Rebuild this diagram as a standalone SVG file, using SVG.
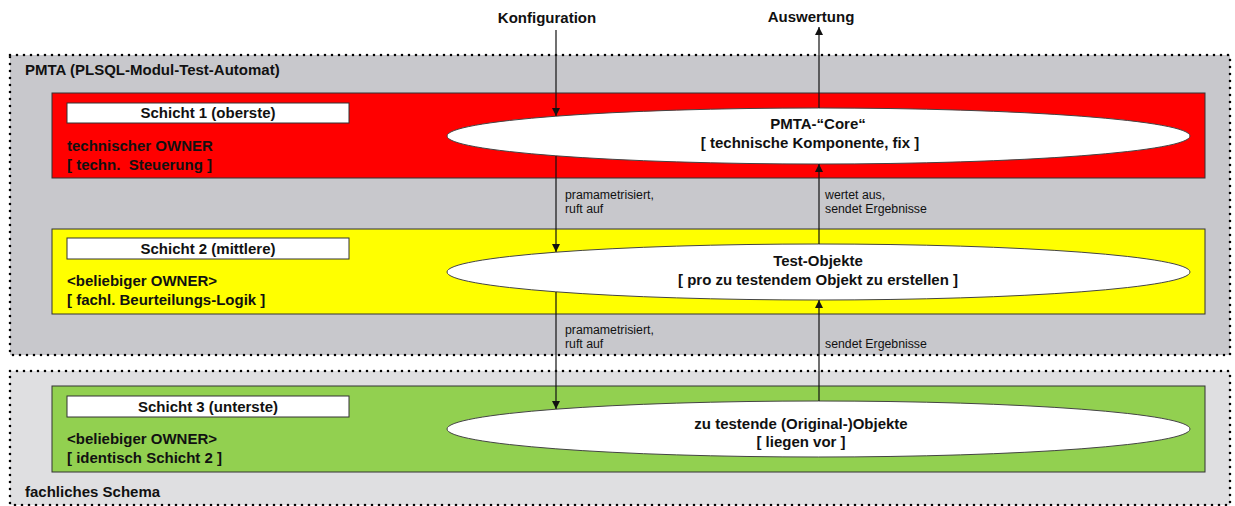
<svg xmlns="http://www.w3.org/2000/svg" width="1235" height="506" viewBox="0 0 1235 506">
<style>
text{font-family:"Liberation Sans",Arial,sans-serif;fill:#111}
.b{font-weight:bold;font-size:15px}
.s{font-size:12.3px}
.c{text-anchor:middle}
.zone{stroke:#000;stroke-width:2.6;stroke-linecap:round;stroke-dasharray:0 7}
.layer{stroke:#333;stroke-width:1}
.tag{fill:#fff;stroke:#333;stroke-width:1}
.ell{fill:#fff;stroke:#444;stroke-width:1}
.con{stroke:#111;stroke-width:1.2;fill:none}
</style>
<defs>
<marker id="ah" viewBox="0 0 10 10" refX="10" refY="5" markerWidth="9" markerHeight="8" markerUnits="userSpaceOnUse" orient="auto">
<path d="M0,0 L10,5 L0,10 z" fill="#111"/>
</marker>
</defs>

<g id="zone-pmta">
<rect x="10" y="55" width="1220" height="300" fill="#c8c8cc"/>
<rect class="zone" x="10" y="55" width="1220" height="300" fill="none"/>
<text class="b" x="25" y="75">PMTA (PLSQL-Modul-Test-Automat)</text>
</g>

<g id="zone-fach">
<rect x="10" y="371" width="1220" height="134" fill="#dfdfe1"/>
<rect class="zone" x="10" y="371" width="1220" height="134" fill="none"/>
<text class="b" x="25" y="497">fachliches Schema</text>
</g>

<g id="layer1">
<rect class="layer" x="52" y="93" width="1153" height="85" fill="#ff0000"/>
<rect class="tag" x="67" y="103" width="282" height="20"/>
<text class="b c" x="208" y="118">Schicht 1 (oberste)</text>
<text class="b" x="67" y="151">technischer OWNER</text>
<text class="b" x="67" y="170" style="white-space:pre">[ techn.  Steuerung ]</text>
</g>

<g id="layer2">
<rect class="layer" x="52" y="229" width="1153" height="85" fill="#ffff00"/>
<rect class="tag" x="67" y="238" width="282" height="21"/>
<text class="b c" x="208" y="254">Schicht 2 (mittlere)</text>
<text class="b" x="67" y="286">&lt;beliebiger OWNER&gt;</text>
<text class="b" x="67" y="305">[ fachl. Beurteilungs-Logik ]</text>
</g>

<g id="layer3">
<rect class="layer" x="52" y="386" width="1153" height="86" fill="#92d050"/>
<rect class="tag" x="67" y="396" width="282" height="21"/>
<text class="b c" x="208" y="412">Schicht 3 (unterste)</text>
<text class="b" x="67" y="444">&lt;beliebiger OWNER&gt;</text>
<text class="b" x="67" y="463">[ identisch Schicht 2 ]</text>
</g>

<g id="core">
<ellipse class="ell" cx="818.5" cy="136" rx="371.5" ry="28"/>
<text class="b c" x="818" y="129">PMTA-“Core“</text>
<text class="b c" x="810" y="148">[ technische Komponente, fix ]</text>
</g>

<g id="testobjekte">
<ellipse class="ell" cx="818.5" cy="272" rx="371.5" ry="28"/>
<text class="b c" x="818" y="266">Test-Objekte</text>
<text class="b c" x="818" y="285">[ pro zu testendem Objekt zu erstellen ]</text>
</g>

<g id="original">
<ellipse class="ell" cx="818.5" cy="429" rx="371.5" ry="28"/>
<text class="b c" x="801" y="429">zu testende (Original-)Objekte</text>
<text class="b c" x="801" y="447">[ liegen vor ]</text>
</g>

<g id="connectors">
<text class="b c" x="547" y="23">Konfiguration</text>
<text class="b c" x="811" y="22">Auswertung</text>
<line class="con" x1="556" y1="30" x2="556" y2="116" marker-end="url(#ah)"/>
<line class="con" x1="819" y1="108" x2="819" y2="27" marker-end="url(#ah)"/>
<line class="con" x1="556" y1="156" x2="556" y2="252" marker-end="url(#ah)"/>
<line class="con" x1="819" y1="244" x2="819" y2="164" marker-end="url(#ah)"/>
<line class="con" x1="556" y1="292" x2="556" y2="409" marker-end="url(#ah)"/>
<line class="con" x1="819" y1="401" x2="819" y2="300" marker-end="url(#ah)"/>
<text class="s" x="565" y="199">pramametrisiert,</text>
<text class="s" x="565" y="213">ruft auf</text>
<text class="s" x="825" y="199">wertet aus,</text>
<text class="s" x="825" y="213">sendet Ergebnisse</text>
<text class="s" x="565" y="334">pramametrisiert,</text>
<text class="s" x="565" y="348">ruft auf</text>
<text class="s" x="825" y="348">sendet Ergebnisse</text>
</g>
</svg>
